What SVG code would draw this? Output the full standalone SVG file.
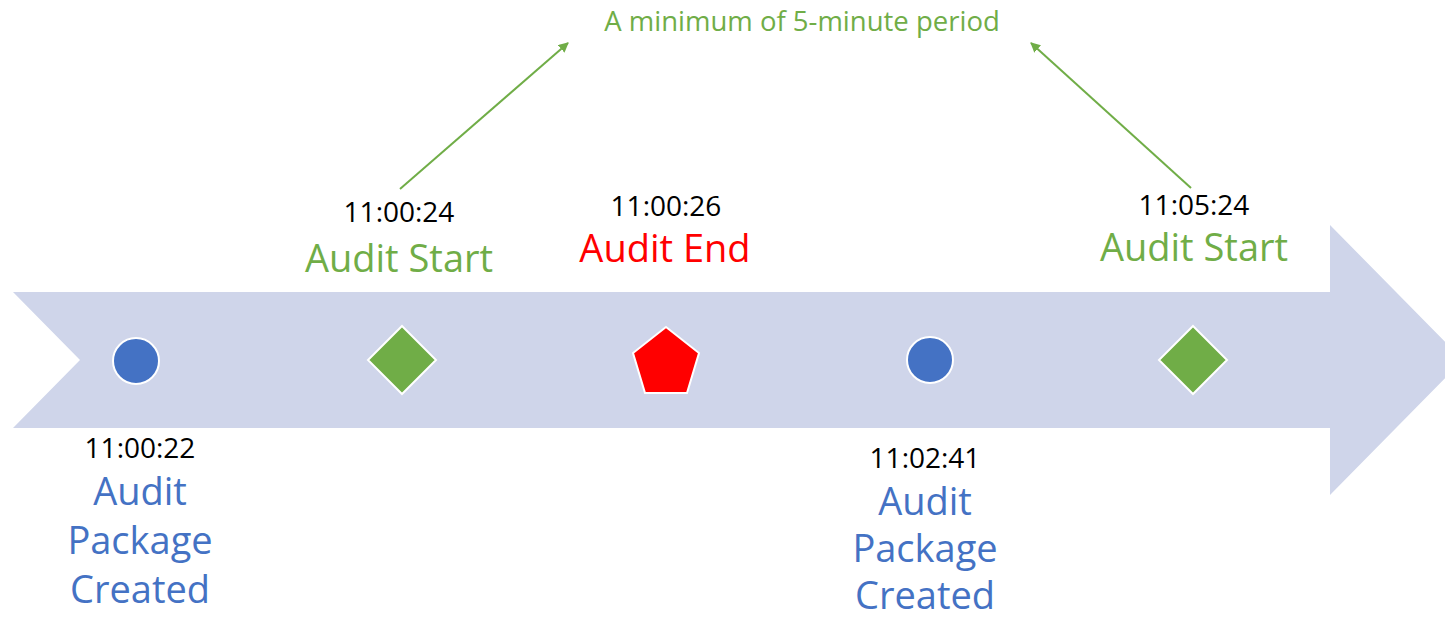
<svg xmlns="http://www.w3.org/2000/svg" width="1445" height="619" viewBox="0 0 1445 619">
<style>
text{font-family:"Open Sans","Noto Sans","Liberation Sans",sans-serif;text-anchor:middle}
.time{font-size:28px;fill:#000}
.lbl{font-size:38px}
.blue{fill:#4472C4}
.green{fill:#70AD47}
.red{fill:#FF0000}
.mark{stroke:#fff;stroke-width:2}
.conn{stroke:#70AD47;stroke-width:2;fill:none;marker-end:url(#ah)}
</style>
<defs>
<marker id="ah" viewBox="0 0 10 10" refX="9" refY="5" markerWidth="5" markerHeight="5" orient="auto" markerUnits="strokeWidth">
<path d="M0,0 L10,5 L0,10 z" fill="#70AD47"/>
</marker>
</defs>
<rect width="1445" height="619" fill="#fff"/>
<g id="timeline-arrow">
<polygon points="13,292 1330,292 1330,225 1463,360 1330,495 1330,428 13,428 80,360" fill="#CFD5EA"/>
</g>
<g id="connectors">
<line class="conn" x1="400" y1="189" x2="568" y2="43"/>
<line class="conn" x1="1191" y1="188" x2="1031" y2="43"/>
</g>
<g id="note">
<text x="802" y="31" class="green" style="font-size:27.5px">A minimum of 5-minute period</text>
</g>
<g id="event1">
<circle class="mark blue" cx="136" cy="361" r="23"/>
<text class="time" x="140" y="458">11:00:22</text>
<text class="lbl blue" x="140" y="505">Audit</text>
<text class="lbl blue" x="140" y="554">Package</text>
<text class="lbl blue" x="140" y="603">Created</text>
</g>
<g id="event2">
<polygon class="mark green" points="402,326 436,360 402,394 368,360"/>
<text class="time" x="399" y="222">11:00:24</text>
<text class="lbl green" x="399" y="272">Audit Start</text>
</g>
<g id="event3">
<polygon class="mark red" points="666,327 699,353 687,393 645,393 633,353"/>
<text class="time" x="666" y="216">11:00:26</text>
<text class="lbl red" x="665" y="262">Audit End</text>
</g>
<g id="event4">
<circle class="mark blue" cx="930" cy="360" r="23"/>
<text class="time" x="925" y="468">11:02:41</text>
<text class="lbl blue" x="925" y="515">Audit</text>
<text class="lbl blue" x="925" y="562">Package</text>
<text class="lbl blue" x="925" y="609">Created</text>
</g>
<g id="event5">
<polygon class="mark green" points="1193,326 1227,360 1193,394 1159,360"/>
<text class="time" x="1194" y="215">11:05:24</text>
<text class="lbl green" x="1194" y="261">Audit Start</text>
</g>
</svg>
